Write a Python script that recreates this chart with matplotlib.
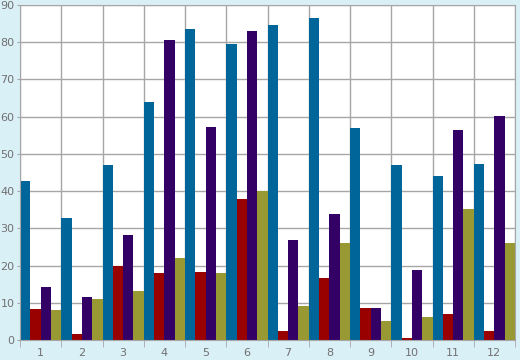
import numpy as np
import matplotlib
matplotlib.use("Agg")
import matplotlib.pyplot as plt

# values, one list per series
categories = ["1", "2", "3", "4", "5", "6", "7", "8", "9", "10", "11", "12"]
blue = [42.7, 32.8, 47.0, 63.9, 83.6, 79.5, 84.6, 86.5, 57.0, 47.0, 44.1, 47.3]
red = [8.3, 1.7, 20.0, 18.0, 18.3, 37.9, 2.4, 16.7, 8.6, 0.5, 7.0, 2.4]
purple = [14.3, 11.5, 28.2, 80.6, 57.2, 83.0, 26.9, 33.9, 8.6, 18.8, 56.4, 60.2]
olive = [8.1, 11.0, 13.2, 22.1, 18.0, 40.0, 9.1, 26.1, 5.1, 6.2, 35.2, 26.1]

series = [blue, red, purple, olive]
colors = ["#006699", "#990000", "#330066", "#999933"]

bg = "#daf0f7"
grid_c = "#a6a6a6"
text_c = "#707070"

fig = plt.figure(figsize=(5.2, 3.6), dpi=100, facecolor=bg)
ax = fig.add_axes([20 / 520, 20 / 360, 495 / 520, 335 / 360])
ax.set_facecolor("white")

x = np.arange(len(categories))
w = 0.25
for i, (vals, c) in enumerate(zip(series, colors)):
    ax.bar(x - 0.5 + w * i, vals, w, align="edge", color=c, zorder=2)

ax.set_xlim(-0.5, len(categories) - 0.5)
ax.set_ylim(0, 90)
ax.set_yticks(np.arange(0, 91, 10))
ax.set_xticks(x)
ax.set_xticklabels(categories)
ax.set_xticks(np.arange(-0.5, len(categories)), minor=True)

ax.grid(True, which="minor", axis="x", color=grid_c, lw=1, zorder=1)
ax.grid(True, which="major", axis="y", color=grid_c, lw=1, zorder=1)

ax.tick_params(axis="x", which="major", length=0, pad=6, labelsize=8, labelcolor=text_c)
ax.tick_params(axis="x", which="minor", length=5, color=grid_c, direction="out")
ax.tick_params(axis="y", length=2, color=grid_c, pad=2, labelsize=8, labelcolor=text_c)

for s in ax.spines.values():
    s.set_color(grid_c)

fig.savefig("out.png", dpi=100, facecolor=bg)
